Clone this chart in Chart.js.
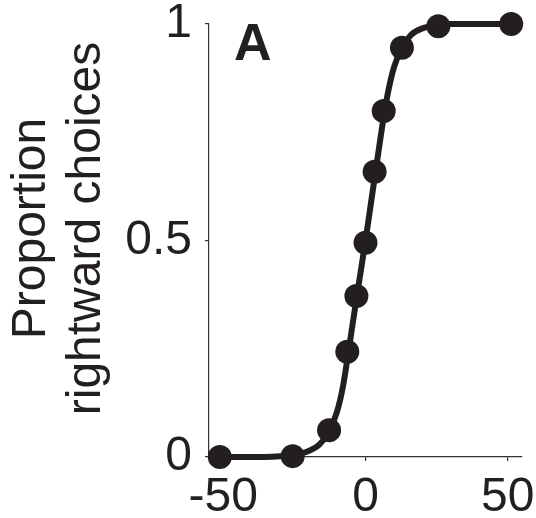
<!DOCTYPE html>
<html>
<head>
<meta charset="utf-8">
<script src="https://cdn.jsdelivr.net/npm/chart.js@4"></script>
<style>
  html, body { margin: 0; padding: 0; background: #fff; }
  #wrap { width: 536px; height: 518px; }
</style>
</head>
<body>
<div id="wrap"><canvas id="c"></canvas></div>
<script>
// ── Data ────────────────────────────────────────────────────────────────────
const coherence  = [-51.2, -25.6, -12.8, -6.4, -3.2, 0, 3.2, 6.4, 12.8, 25.6, 51.2];
const proportion = [0.0, 0.002, 0.062, 0.243, 0.372, 0.495, 0.659, 0.799, 0.945, 0.995, 1.0];

// fitted curve
const fitX = [-51.2, -40, -30, -25.6, -20, -16, -12.8, -10, -8, -6.4, -4, -2, 0, 2, 4, 6.4, 8, 10, 12.8, 16, 20, 25.6, 30, 40, 51.2];
const fitY = [0.0, 0.0, 0.002, 0.004, 0.014, 0.03, 0.06, 0.105, 0.16, 0.225, 0.33, 0.415, 0.5, 0.59, 0.68, 0.785, 0.845, 0.9, 0.945, 0.975, 0.99, 0.997, 1.0, 1.0, 1.0];

const xTicks = [-50, 0, 50];
const yTicks = [0, 0.5, 1];
// leading en space nudges the rotated title up a little, as in the figure
const yTitle = ['\u2002Proportion', '\u2002rightward choices'];
const panelLabel = 'A';

const ink  = '#231f20';
const axis = '#333333';
const font = "'Liberation Sans', Arial, Helvetica, sans-serif";

// ── Panel letter ───────────────────────────────────────────────────────────
const panelPlugin = {
    id: 'panelLetter',
    afterDraw(chart) {
        const { ctx, chartArea } = chart;
        ctx.save();
        ctx.fillStyle = ink;
        ctx.font = `bold 52px ${font}`;
        ctx.textAlign = 'left';
        ctx.textBaseline = 'alphabetic';
        ctx.fillText(panelLabel, chartArea.left + 25, chartArea.top + 36);
        ctx.restore();
    },
};

// keep the plot box fixed: no extra room for overhanging tick labels
const noOverhang = s => { s.paddingTop = s.paddingBottom = s.paddingLeft = s.paddingRight = 0; };

new Chart(document.getElementById('c'), {
    type: 'scatter',
    data: { datasets: [
        { label: 'data', data: coherence.map((x, i) => ({ x, y: proportion[i] })), showLine: false,
          pointRadius: 12, pointHoverRadius: 12, backgroundColor: ink, borderColor: ink, borderWidth: 0, clip: false },
        { label: 'fit', data: fitX.map((x, i) => ({ x, y: fitY[i] })), showLine: true, borderColor: ink,
          borderWidth: 6, pointRadius: 0, cubicInterpolationMode: 'monotone', fill: false, clip: false },
    ]},
    options: {
        responsive: true, maintainAspectRatio: false, animation: false, devicePixelRatio: 1,
        layout: { padding: { left: 0, right: 14, top: 24, bottom: 0 } },
        plugins: { legend: { display: false }, tooltip: { enabled: false } },
        scales: {
            x: {
                type: 'linear', min: -55, max: 55,
                afterBuildTicks: s => { s.ticks = xTicks.map(v => ({ value: v })); },
                afterFit: s => { s.height = 61; noOverhang(s); },
                grid: { drawOnChartArea: false, drawTicks: true, tickLength: 4, color: axis, lineWidth: 1.2 },
                border: { display: true, color: axis, width: 1.2 },
                ticks: { color: ink, padding: 13, maxRotation: 0, callback: v => String(v),
                         font: { family: font, size: 48, lineHeight: 1 } },
            },
            y: {
                min: 0, max: 1,
                afterBuildTicks: s => { s.ticks = yTicks.map(v => ({ value: v })); },
                afterFit: s => { s.width = 209; noOverhang(s); },
                grid: { drawOnChartArea: false, drawTicks: true, tickLength: 4, color: axis, lineWidth: 1.2 },
                border: { display: true, color: axis, width: 1.2 },
                ticks: { color: ink, padding: 13, callback: v => String(v),
                         font: { family: font, size: 48, lineHeight: 1 } },
                title: { display: true, text: yTitle, color: ink, padding: { top: 4, bottom: 0 },
                         font: { family: font, size: 48, lineHeight: 1.15 } },
            },
        },
    },
    plugins: [panelPlugin],
});
</script>
</body>
</html>
